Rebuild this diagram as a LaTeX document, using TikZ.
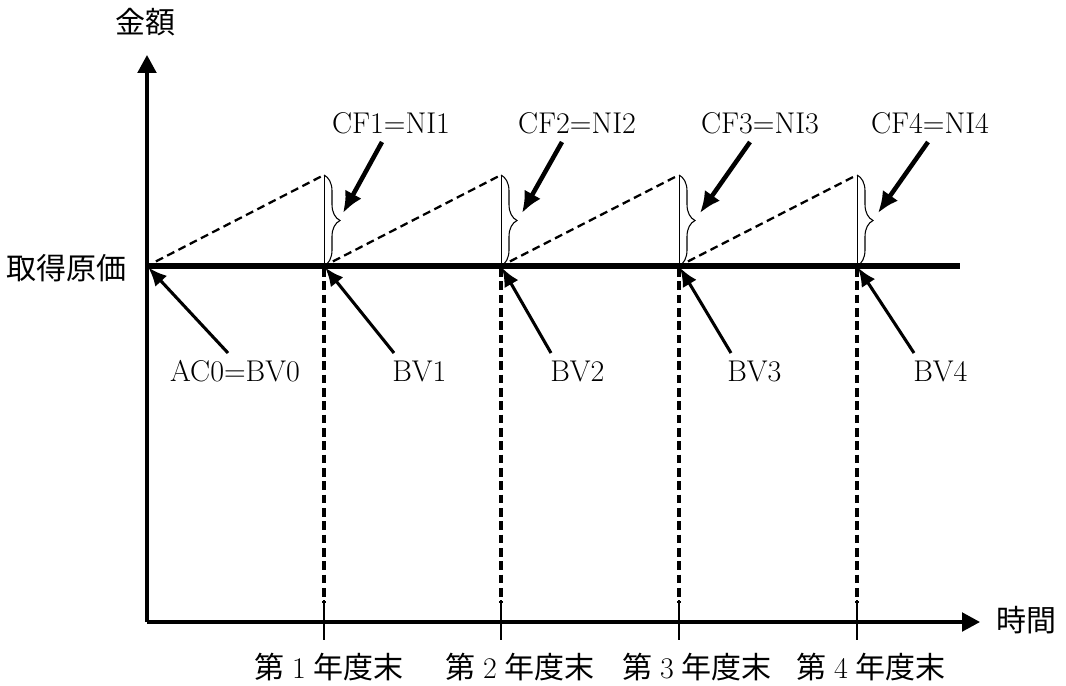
\documentclass[tikz,border=0pt]{standalone}
\usepackage{fontspec}
\newfontfamily\jp{Noto Sans CJK JP}
\usepackage{tikz}
\usetikzlibrary{calc,arrows.meta,decorations.pathreplacing}
\tikzset{
  axis/.style={line width=2.4pt,-{Triangle[length=13.5pt,width=14pt]}},
  costline/.style={line width=3.8pt},
  yearline/.style={line width=2.6pt,dash pattern=on 6.5pt off 3.5pt},
  tickline/.style={line width=1pt},
  growth/.style={line width=1.7pt,dash pattern=on 6pt off 3.5pt,shorten <=7.5pt,shorten >=1pt},
  cfbrace/.style={line width=0.8pt,decorate,decoration={brace,amplitude=12pt}},
  cfarrow/.style={line width=3.4pt,-{Latex[length=16pt,width=14pt]}},
  bvarrow/.style={line width=2.3pt,shorten >=1.5pt,-{Latex[length=14pt,width=12pt]}},
  lab/.style={inner sep=0pt,font=\fontsize{22.5}{27}\selectfont}
}
\newcommand{\yearend}[1]{{\jp 第}\hspace{.25em}#1\hspace{.25em}{\jp 年度末}}

\begin{document}
\begin{tikzpicture}[x=0.75pt,y=-0.75pt]
  \useasboundingbox (0,0) rectangle (1066,685);
  % axes
  \coordinate (o) at (147,622);
  \coordinate (ytip) at (147,55);
  \coordinate (xtip) at (980,622);
  \draw[axis] (o) -- (ytip);
  \draw[axis] (o) -- (xtip);
  \node[lab] (amount) at (145,22) {\jp 金額};
  \node[lab] (time) at (1026,620) {\jp 時間};
  % cost line and year ends
  \coordinate (b0) at (147,266);
  \coordinate (b1) at (324,266);
  \coordinate (b2) at (501,266);
  \coordinate (b3) at (679,266);
  \coordinate (b4) at (857,266);
  \coordinate (bend) at (960,266);
  \node[lab] (cost) at (67,268) {\jp 取得原価};
  \draw[yearline] (324,268) -- (324,603);
  \draw[yearline] (501,268) -- (501,603);
  \draw[yearline] (679,268) -- (679,603);
  \draw[yearline] (857,268) -- (857,603);
  \draw[tickline] (324,600) -- (324,640);
  \draw[tickline] (501,600) -- (501,640);
  \draw[tickline] (679,600) -- (679,640);
  \draw[tickline] (857,600) -- (857,640);
  \node[lab] (year1) at (329,667) {\yearend{1}};
  \node[lab] (year2) at (520,667) {\yearend{2}};
  \node[lab] (year3) at (697,667) {\yearend{3}};
  \node[lab] (year4) at (871,667) {\yearend{4}};
  % growth within each year
  \coordinate (t1) at (324,175);
  \coordinate (t2) at (501,175);
  \coordinate (t3) at (679,175);
  \coordinate (t4) at (857,175);
  \draw[growth] (b0) -- (t1);
  \draw[growth] (b1) -- (t2);
  \draw[growth] (b2) -- (t3);
  \draw[growth] (b3) -- (t4);
  \draw[line width=0.7pt] (t1) -- (b1);
  \draw[line width=0.7pt] (t2) -- (b2);
  \draw[line width=0.7pt] (t3) -- (b3);
  \draw[line width=0.7pt] (t4) -- (b4);
  \draw[cfbrace] (t1) -- (b1);
  \draw[cfbrace] (t2) -- (b2);
  \draw[cfbrace] (t3) -- (b3);
  \draw[cfbrace] (t4) -- (b4);
  \draw[costline] (b0) -- (bend);
  % cash flow labels
  \coordinate (c1) at (343,213);
  \coordinate (c2) at (522,213);
  \coordinate (c3) at (700,213);
  \coordinate (c4) at (878,213);
  \node[lab,anchor=base] (cf1) at (391,133) {CF1=NI1};
  \node[lab,anchor=base] (cf2) at (577,133) {CF2=NI2};
  \node[lab,anchor=base] (cf3) at (760,133) {CF3=NI3};
  \node[lab,anchor=base] (cf4) at (930,133) {CF4=NI4};
  \draw[cfarrow] ($(cf1.base)+(-9,9)$) -- (c1);
  \draw[cfarrow] ($(cf2.base)+(-15,9)$) -- (c2);
  \draw[cfarrow] ($(cf3.base)+(-10,9)$) -- (c3);
  \draw[cfarrow] ($(cf4.base)+(-2,9)$) -- (c4);
  % book values
  \node[lab,anchor=base] (bv0) at (235,381) {AC0=BV0};
  \node[lab,anchor=base west] (bv1) at (392,381) {BV1};
  \node[lab,anchor=base west] (bv2) at (550,381) {BV2};
  \node[lab,anchor=base west] (bv3) at (727,381) {BV3};
  \node[lab,anchor=base west] (bv4) at (913,381) {BV4};
  \draw[bvarrow] ($(bv0.base)+(-7,-28)$) -- (b0);
  \draw[bvarrow] ($(bv1.base west)+(2,-28)$) -- (b1);
  \draw[bvarrow] ($(bv2.base west)+(1,-28)$) -- (b2);
  \draw[bvarrow] ($(bv3.base west)+(4,-28)$) -- (b3);
  \draw[bvarrow] ($(bv4.base west)+(1,-28)$) -- (b4);
\end{tikzpicture}
\end{document}
